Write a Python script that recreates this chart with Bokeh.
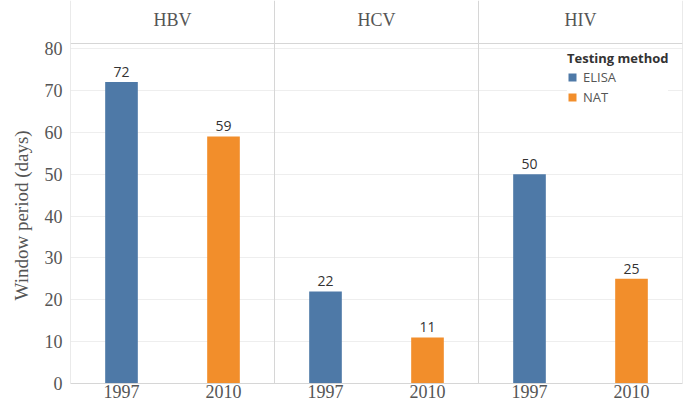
from bokeh.plotting import figure
from bokeh.models import Range1d, FixedTicker, Span, Legend, LegendItem, ColumnDataSource, Title
from bokeh.core.properties import value
from bokeh.embed import file_html
from bokeh.resources import INLINE

# ---- data ----
viruses = ["HBV", "HCV", "HIV"]
years = ["1997", "2010"]
methods = ["ELISA", "NAT"]
elisa_1997 = [72, 22, 50]
nat_2010 = [59, 11, 25]
y_ticks = [0, 10, 20, 30, 40, 50, 60, 70, 80]
colors = {"ELISA": "#4e79a7", "NAT": "#f28e2b"}
y_title = "Window period (days)"
legend_title = "Testing method"

SERIF = "Liberation Serif"
SANS = "Open Sans"
GRAY_LINE = "#d6d6d6"
TXT = "#555555"

W, H = 685, 404
BORDER_LEFT = 70
BORDER_BOTTOM = 21
FRAME_H = H - BORDER_BOTTOM
HEADER_PX = 43          # header strip height (px) above data area
DATA_TOP = 81.2         # value at the header line
scale = (FRAME_H - HEADER_PX) / DATA_TOP
y_top = DATA_TOP + HEADER_PX / scale
header_text_y = y_top - 19 / scale

n_sub = len(years)
x_max = len(viruses) * n_sub

def pos(i, j):
    return i * n_sub + j + 0.5

series = {"ELISA": elisa_1997, "NAT": nat_2010}

p = figure(width=W, height=H, x_range=Range1d(0, x_max), y_range=Range1d(0, y_top),
           output_backend="svg", toolbar_location=None,
           min_border_left=BORDER_LEFT, min_border_right=3, min_border_top=0,
           min_border_bottom=BORDER_BOTTOM)
p.outline_line_color = None
p.xgrid.visible = False
p.ygrid.grid_line_color = "#eeeeee"

renderers = {}
for j, m in enumerate(methods):
    vals = series[m]
    src = ColumnDataSource(dict(x=[pos(i, j) for i in range(len(viruses))], top=vals,
                                lab=[str(v) for v in vals]))
    r = p.vbar(x="x", top="top", width=0.32, source=src, fill_color=colors[m], line_color=None)
    renderers[m] = r
    p.text(x="x", y="top", text="lab", source=src, text_font=value(SANS), text_font_size="14px",
           text_color="#333333", text_align="center", text_baseline="bottom", y_offset=-5)

# header labels and panel lines
p.text(x=[i * n_sub + n_sub / 2 for i in range(len(viruses))], y=[header_text_y] * len(viruses),
       text=viruses, text_font=value(SERIF), text_font_size="18px", text_color=TXT,
       text_align="center", text_baseline="middle")
for k in range(len(viruses) + 1):
    p.add_layout(Span(location=k * n_sub, dimension="height", line_color=GRAY_LINE, line_width=1))
p.add_layout(Span(location=DATA_TOP, dimension="width", line_color=GRAY_LINE, line_width=1))

# x axis
tick_pos = [pos(i, j) for i in range(len(viruses)) for j in range(n_sub)]
p.xaxis.ticker = FixedTicker(ticks=tick_pos)
p.xaxis.major_label_overrides = {pos(i, j): years[j] for i in range(len(viruses)) for j in range(n_sub)}
p.xaxis.axis_line_color = GRAY_LINE
p.xaxis.major_tick_line_color = None
p.xaxis.minor_tick_line_color = None
p.xaxis.major_tick_out = 0
p.xaxis.major_tick_in = 0
p.xaxis.major_label_standoff = 1
p.xaxis.major_label_text_font = SERIF
p.xaxis.major_label_text_font_size = "18px"
p.xaxis.major_label_text_color = TXT

# y axis
p.yaxis.ticker = FixedTicker(ticks=y_ticks)
p.yaxis.axis_line_color = None
p.yaxis.major_tick_line_color = None
p.yaxis.minor_tick_line_color = None
p.yaxis.major_tick_out = 0
p.yaxis.major_tick_in = 0
p.yaxis.major_label_standoff = 8
p.yaxis.major_label_text_font = SERIF
p.yaxis.major_label_text_font_size = "18px"
p.yaxis.major_label_text_color = TXT

# y-axis title, centred on the data area (below the header strip)
ytitle = Title(text=y_title, align="left", offset=83, standoff=16, vertical_align="top",
               text_font=SERIF, text_font_size="19px", text_font_style="normal",
               text_color=TXT)
p.add_layout(ytitle, "left")

legend = Legend(items=[LegendItem(label=m, renderers=[renderers[m]]) for m in methods],
                location=(497, FRAME_H - 45 - 62), title=legend_title)
legend.title_text_font = SANS
legend.title_text_font_size = "13px"
legend.title_text_font_style = "bold"
legend.title_text_color = "#333333"
legend.title_standoff = 0
legend.label_text_font = SANS
legend.label_text_font_size = "13px"
legend.label_text_color = TXT
legend.glyph_width = 10
legend.glyph_height = 10
legend.label_height = 20
legend.label_standoff = 6
legend.spacing = 0
legend.padding = 4
legend.margin = 0
legend.border_line_color = None
legend.background_fill_alpha = 1
p.add_layout(legend)

open("out.html", "w").write(file_html(p, INLINE))
